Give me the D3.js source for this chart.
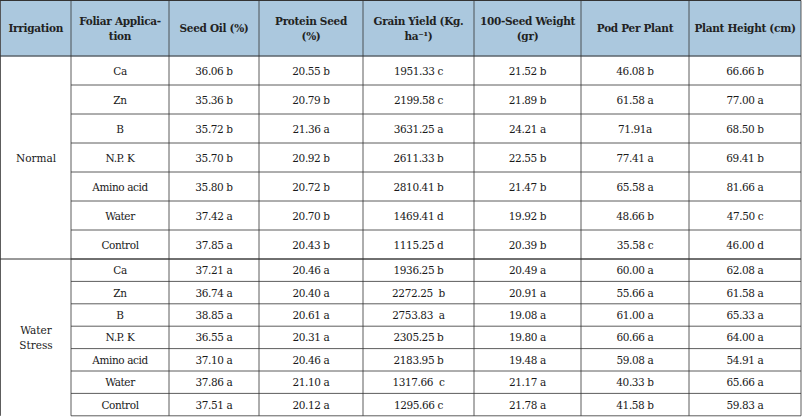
<!DOCTYPE html>
<html><head><meta charset="utf-8">
<script src="https://cdn.jsdelivr.net/npm/d3@7"></script>
<style>body{margin:0;background:#fff}</style>
</head><body><svg id="t" width="802" height="420"></svg>
<script>
const headers = [["Irrigation"], ["Foliar Applica-", "tion"], ["Seed Oil (%)"], ["Protein Seed", "(%)"],
  ["Grain Yield (Kg.", "ha\u207B\u00B9)"], ["100-Seed Weight", "(gr)"], ["Pod Per Plant"], ["Plant Height (cm)"]];
const groups = ["Normal", "Water Stress"];
const treatments = ["Ca", "Zn", "B", "N.P. K", "Amino acid", "Water", "Control"];
const normalRows = [
  ["36.06 b", "20.55 b", "1951.33 c", "21.52 b", "46.08 b", "66.66 b"],
  ["35.36 b", "20.79 b", "2199.58 c", "21.89 b", "61.58 a", "77.00 a"],
  ["35.72 b", "21.36 a", "3631.25 a", "24.21 a", "71.91a", "68.50 b"],
  ["35.70 b", "20.92 b", "2611.33 b", "22.55 b", "77.41 a", "69.41 b"],
  ["35.80 b", "20.72 b", "2810.41 b", "21.47 b", "65.58 a", "81.66 a"],
  ["37.42 a", "20.70 b", "1469.41 d", "19.92 b", "48.66 b", "47.50 c"],
  ["37.85 a", "20.43 b", "1115.25 d", "20.39 b", "35.58 c", "46.00 d"]];
const stressRows = [
  ["37.21 a", "20.46 a", "1936.25 b", "20.49 a", "60.00 a", "62.08 a"],
  ["36.74 a", "20.40 a", "2272.25  b", "20.91 a", "55.66 a", "61.58 a"],
  ["38.85 a", "20.61 a", "2753.83  a", "19.08 a", "61.00 a", "65.33 a"],
  ["36.55 a", "20.31 a", "2305.25 b", "19.80 a", "60.66 a", "64.00 a"],
  ["37.10 a", "20.46 a", "2183.95 b", "19.48 a", "59.08 a", "54.91 a"],
  ["37.86 a", "21.10 a", "1317.66  c", "21.17 a", "40.33 b", "65.66 a"],
  ["37.51 a", "20.12 a", "1295.66 c", "21.78 a", "41.58 b", "59.83 a"]];

const colEdges = [0.5, 71, 169, 259, 363, 474, 581, 689, 801];
const headH = 56, normH = 29, strH = 22.4;
const svg = d3.select("#t");
const font = "'DejaVu Serif', serif";
const lineC = "#333";

// header
svg.append("rect").attr("x", 0.5).attr("y", 0.5).attr("width", 800.5).attr("height", headH).attr("fill", "#abc8de");
headers.forEach((h, i) => {
  const cx = (colEdges[i] + colEdges[i + 1]) / 2;
  const t = svg.append("text").attr("x", cx).attr("text-anchor", "middle")
    .attr("font-family", font).attr("font-size", 10.5).attr("font-weight", "bold").attr("fill", "#222")
    .attr("letter-spacing", -0.3);
  h.forEach((line, k) => {
    t.append("tspan").attr("x", cx).attr("y", headH / 2 + 4 + (k - (h.length - 1) / 2) * 15).text(line);
  });
});

// body rows
const rows = [];
[normalRows, stressRows].forEach((data, g) => {
  data.forEach((vals, r) => {
    const y0 = g === 0 ? headH + r * normH : headH + 7 * normH + r * strH;
    rows.push({ g, y0, h: g === 0 ? normH : strH, cells: [treatments[r]].concat(vals) });
  });
});

rows.forEach(row => {
  row.cells.forEach((c, j) => {
    const cx = (colEdges[j + 1] + colEdges[j + 2]) / 2;
    svg.append("text").attr("x", cx).attr("y", row.y0 + row.h / 2 + 4)
      .attr("text-anchor", "middle").attr("font-family", font).attr("font-size", 10.5)
      .attr("letter-spacing", -0.4).attr("fill", "#1a1a1a").attr("xml:space", "preserve").text(c);
  });
  svg.append("line").attr("x1", colEdges[1]).attr("x2", 801).attr("y1", row.y0 + row.h).attr("y2", row.y0 + row.h)
    .attr("stroke", lineC).attr("stroke-width", 0.8);
});

// group labels
const gy = [[headH, headH + 7 * normH], [headH + 7 * normH, headH + 7 * normH + 7 * strH]];
groups.forEach((name, g) => {
  const words = name.split(" ");
  const mid = (gy[g][0] + gy[g][1]) / 2;
  const t = svg.append("text").attr("text-anchor", "middle").attr("font-family", font)
    .attr("font-size", 10.5).attr("fill", "#1a1a1a");
  words.forEach((w, k) => t.append("tspan").attr("x", 36).attr("y", mid + 4 + (k - (words.length - 1) / 2) * 15).text(w));
});
svg.append("line").attr("x1", 0).attr("x2", 801).attr("y1", gy[0][1]).attr("y2", gy[0][1]).attr("stroke", lineC);
svg.append("line").attr("x1", 0).attr("x2", 801).attr("y1", headH).attr("y2", headH).attr("stroke", lineC);

// vertical lines and frame
colEdges.forEach(x => svg.append("line").attr("x1", x).attr("x2", x).attr("y1", 0.5).attr("y2", gy[1][1])
  .attr("stroke", lineC).attr("stroke-width", 0.8));
svg.append("line").attr("x1", 0).attr("x2", 801).attr("y1", 0.5).attr("y2", 0.5).attr("stroke", lineC);
</script></body></html>
